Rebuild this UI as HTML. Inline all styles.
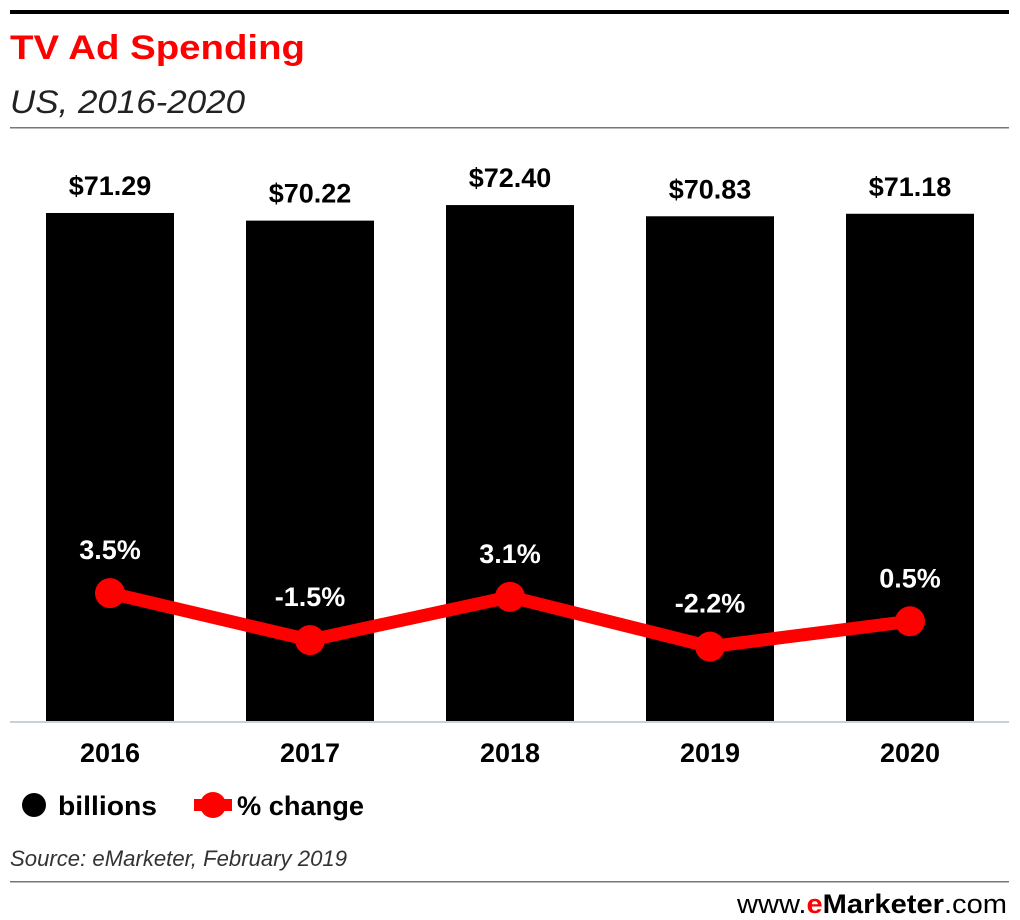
<!DOCTYPE html>
<html><head><meta charset="utf-8"><style>
body{margin:0;background:#fff;font-family:"Liberation Sans",sans-serif;}
#wrap{position:relative;width:1020px;height:920px;overflow:hidden;}
</style></head><body>
<div id="wrap">
<svg id="svg" width="1020" height="920" xmlns="http://www.w3.org/2000/svg">
<rect x="10" y="10" width="999" height="4" fill="#000"/>
<text x="10" y="59" font-size="34" font-weight="bold" fill="#ff0000" textLength="295" lengthAdjust="spacingAndGlyphs">TV Ad Spending</text>
<text x="10" y="113" font-size="32" font-style="italic" fill="#222" textLength="235" lengthAdjust="spacingAndGlyphs">US, 2016-2020</text>
<rect x="10" y="127" width="999" height="1.5" fill="#777"/>
<g id="bars"></g>
<line x1="10" y1="722" x2="1009" y2="722" stroke="#c8d0dc" stroke-width="2"/>
<g id="line"></g>
<g id="xlabels"></g>
<circle cx="34" cy="805" r="12" fill="#000"/>
<text x="58" y="815" font-size="27" font-weight="bold" textLength="99" lengthAdjust="spacingAndGlyphs">billions</text>
<line x1="194" y1="805" x2="232" y2="805" stroke="#ff0000" stroke-width="12"/>
<circle cx="213" cy="805" r="13" fill="#ff0000"/>
<text x="237" y="815" font-size="27" font-weight="bold" textLength="127" lengthAdjust="spacingAndGlyphs">% change</text>
<text x="10" y="866" font-size="22" font-style="italic" fill="#333" textLength="337" lengthAdjust="spacingAndGlyphs">Source: eMarketer, February 2019</text>
<rect x="10" y="881" width="999" height="1.5" fill="#777"/>
<text x="1007" y="913" font-size="27" text-anchor="end" fill="#000" textLength="270" lengthAdjust="spacingAndGlyphs">www.<tspan fill="#ff0000" font-weight="bold">e</tspan><tspan font-weight="bold">Marketer</tspan>.com</text>
</svg>
</div>
<script>
const categories = ["2016","2017","2018","2019","2020"];
const billions = [71.29, 70.22, 72.40, 70.83, 71.18];
const billionLabels = ["$71.29","$70.22","$72.40","$70.83","$71.18"];
const pctChange = [3.5, -1.5, 3.1, -2.2, 0.5];
const pctLabels = ["3.5%","-1.5%","3.1%","-2.2%","0.5%"];
const NS="http://www.w3.org/2000/svg";
function xCenter(i){return 110+i*200;}
function yBar(v){return 722-v*7.14;}
function yPct(v){return 626-v*9.4;}
function mk(tag,attrs,parent){const e=document.createElementNS(NS,tag);for(const k in attrs)e.setAttribute(k,attrs[k]);parent.appendChild(e);return e;}
const gb=document.getElementById('bars'),gl=document.getElementById('line'),gx=document.getElementById('xlabels');
categories.forEach((c,i)=>{
  const y=yBar(billions[i]);
  const r=mk('rect',{x:xCenter(i)-64,y:y,width:128,height:722-y,fill:'#000'},gb);
  
  
  const t=mk('text',{x:xCenter(i),y:y-18,'font-size':27,'font-weight':'bold','text-anchor':'middle'},gb);
  t.textContent=billionLabels[i];
  
  
  const xl=mk('text',{x:xCenter(i),y:762,'font-size':27,'font-weight':'bold','text-anchor':'middle'},gx);
  xl.textContent=c;
  
  
});
const pts=categories.map((c,i)=>xCenter(i)+','+yPct(pctChange[i])).join(' ');
const pl=mk('polyline',{points:pts,fill:'none',stroke:'#ff0000','stroke-width':13,'stroke-linejoin':'round'},gl);


categories.forEach((c,i)=>{
  const y=yPct(pctChange[i]);
  const p=mk('circle',{cx:xCenter(i),cy:y,r:15,fill:'#ff0000'},gl);
  
  
  const t=mk('text',{x:xCenter(i),y:y-34,'font-size':27,'font-weight':'bold','text-anchor':'middle',fill:'#fff'},gl);
  t.textContent=pctLabels[i];
  
  
});
</script>
</body></html>
